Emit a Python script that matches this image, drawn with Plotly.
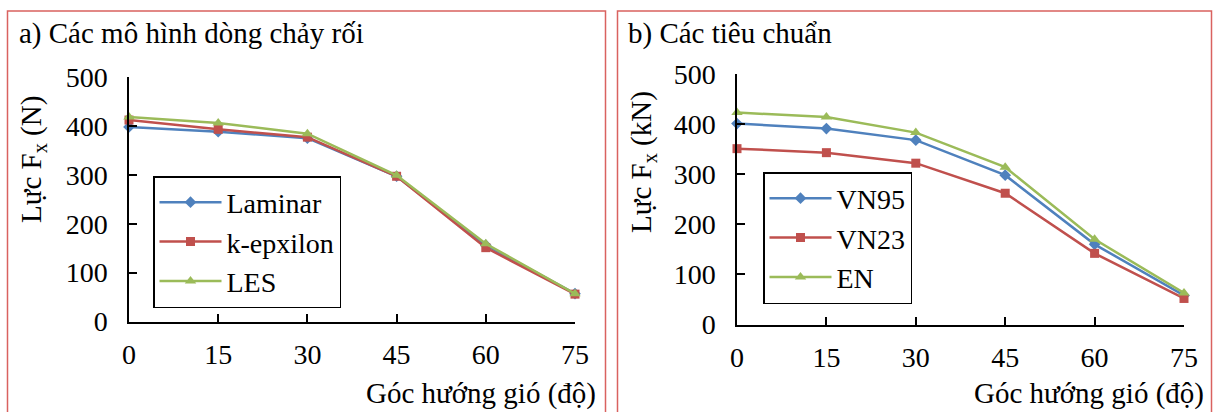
import plotly.graph_objects as go

angles = [0, 15, 30, 45, 60, 75]
tick_vals_y = [0, 100, 200, 300, 400, 500]

laminar = [398, 388, 375, 297, 156, 57]
k_epxilon = [412, 393, 377, 297, 151, 56]
les = [418, 406, 384, 299, 159, 57]

vn95 = [401, 391, 368, 298, 160, 58]
vn23 = [351, 343, 322, 262, 142, 52]
en = [423, 414, 383, 314, 170, 63]

title_a = "a) Các mô hình dòng chảy rối"
title_b = "b) Các tiêu chuẩn"
xtitle = "Góc hướng gió (độ)"
ytitle_a = "Lực F<sub>x</sub> (N)"
ytitle_b = "Lực F<sub>x</sub> (kN)"

BLUE = "#4F81BD"
RED = "#C0504D"
GREEN = "#9BBB59"
F = "Liberation Serif"

fig = go.Figure()

def add(x, y, name, color, symbol, size, xa, ya, legend):
    fig.add_trace(go.Scatter(
        x=x, y=y, name=name, mode="lines+markers",
        line=dict(color=color, width=2.5),
        marker=dict(color=color, symbol=symbol, size=size),
        xaxis=xa, yaxis=ya, legend=legend, cliponaxis=False))

add(angles, laminar, "Laminar", BLUE, "diamond", 9, "x", "y", "legend")
add(angles, k_epxilon, "k-epxilon", RED, "square", 9, "x", "y", "legend")
add(angles, les, "LES", GREEN, "triangle-up", 10, "x", "y", "legend")
add(angles, vn95, "VN95", BLUE, "diamond", 9, "x2", "y2", "legend2")
add(angles, vn23, "VN23", RED, "square", 9, "x2", "y2", "legend2")
add(angles, en, "EN", GREEN, "triangle-up", 10, "x2", "y2", "legend2")

W, H = 1216, 412
def px(v):
    return v / W
def py(v):
    return 1 - v / H

def axis_common():
    return dict(showline=True, linecolor="black", linewidth=1.5,
                ticks="inside", ticklen=8, tickwidth=1.5, tickcolor="black",
                showgrid=False, zeroline=False,
                tickfont=dict(family=F, size=28, color="black"))

def legend_style(x, y):
    return dict(x=x, y=y, xanchor="left", yanchor="top",
                bordercolor="black", borderwidth=1.5, bgcolor="white",
                font=dict(family=F, size=28, color="black"),
                itemwidth=62, tracegroupgap=0)

fig.update_layout(
    template="none",
    width=W, height=H, margin=dict(l=0, r=0, t=0, b=0),
    paper_bgcolor="white", plot_bgcolor="white",
    xaxis=dict(domain=[px(129), px(575)], range=[0, 75], tickvals=angles,
               anchor="y", ticklabelstandoff=7, **axis_common()),
    yaxis=dict(domain=[py(321.5), py(77)], range=[0, 500], tickvals=tick_vals_y,
               anchor="x", ticklabelstandoff=14, **axis_common()),
    xaxis2=dict(domain=[px(737), px(1184)], range=[0, 75], tickvals=angles,
                anchor="y2", ticklabelstandoff=7, **axis_common()),
    yaxis2=dict(domain=[py(324.5), py(74)], range=[0, 500], tickvals=tick_vals_y,
                anchor="x2", ticklabelstandoff=14, **axis_common()),
    legend=legend_style(px(153), py(176)),
    legend2=legend_style(px(763), py(172)),
)

# panel borders
BORDER = "#D9625F"
fig.add_shape(type="rect", xref="paper", yref="paper",
              x0=px(7.5), x1=px(605.5), y0=py(420), y1=py(11),
              line=dict(color=BORDER, width=1.5))
fig.add_shape(type="rect", xref="paper", yref="paper",
              x0=px(617.5), x1=px(1211.5), y0=py(420), y1=py(11),
              line=dict(color=BORDER, width=1.5))

def annot(text, x, y, xanchor, angle=0):
    fig.add_annotation(text=text, x=x, y=y, xref="paper", yref="paper",
                       xanchor=xanchor, yanchor="middle", showarrow=False,
                       textangle=angle,
                       font=dict(family=F, size=29, color="black"))

annot(title_a, px(17), py(34), "left")
annot(title_b, px(626), py(34), "left")
annot(xtitle, px(598), py(393), "right")
annot(xtitle, px(1206), py(393), "right")
annot(ytitle_a, px(33), py(160), "center", -90)
annot(ytitle_b, px(643), py(162), "center", -90)

post = """
var gd = document.getElementById('{plot_id}');
function fixFonts() {
  gd.querySelectorAll('text').forEach(function (t) {
    t.style.fontFamily = '"Liberation Serif", "Times New Roman", serif';
  });
}
fixFonts();
if (document.fonts && document.fonts.ready) { document.fonts.ready.then(fixFonts); }
setTimeout(fixFonts, 50);
"""

fig.write_html("out.html", post_script=post)
